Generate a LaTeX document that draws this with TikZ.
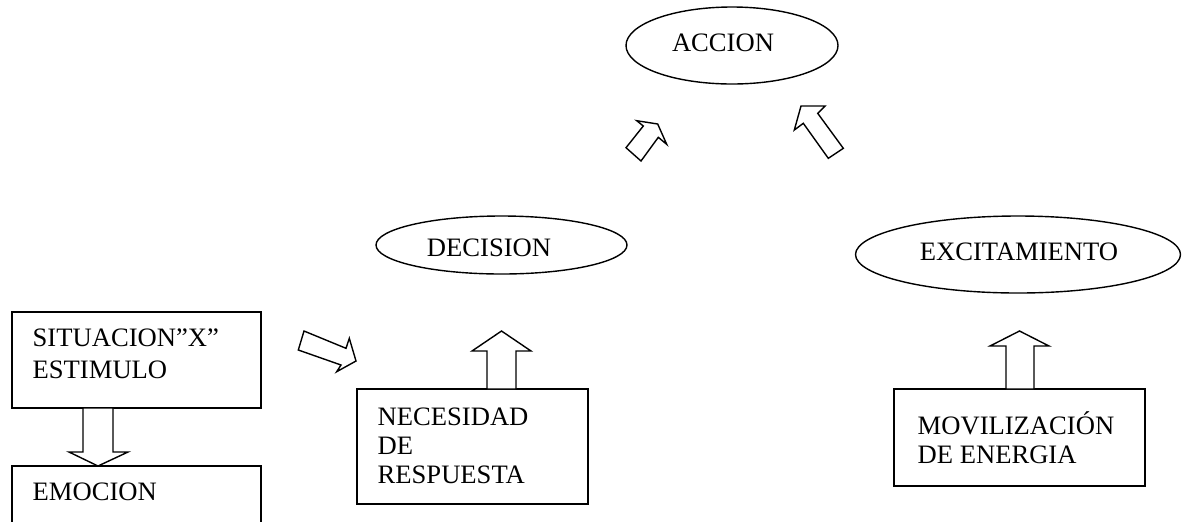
\documentclass[tikz,border=0pt]{standalone}
\usepackage{fontspec}
\setmainfont{Liberation Serif}
\usetikzlibrary{shapes.geometric}
\begin{document}
\begin{tikzpicture}[x=0.5pt,y=-0.5pt, line width=0.7pt,
  box/.style={draw, rectangle, inner sep=0pt, outer sep=0pt},
  oval/.style={draw, ellipse, inner sep=0pt, outer sep=0pt},
  lbl/.style={anchor=west, inner sep=0pt, align=left, font=\fontsize{13.3pt}{14.5pt}\selectfont},
  ctr/.style={inner sep=0pt, font=\fontsize{13.3pt}{14.5pt}\selectfont},
  blk/.style={draw, line join=miter, fill=white}]
\useasboundingbox (0,0) rectangle (1182,521);
\clip (0,0) rectangle (1182,521);

% ellipses
\node[oval, minimum width=106pt, minimum height=38.5pt] (accion) at (732,45.5) {};
\node[ctr] (taccion) at (723,43) {ACCION};
\node[oval, minimum width=125.5pt, minimum height=29pt] (decision) at (501.5,245) {};
\node[ctr] (tdecision) at (489,248) {DECISION};
\node[oval, minimum width=162.5pt, minimum height=38.5pt] (excit) at (1018,254.5) {};
\node[ctr] (texcit) at (1019,252) {EXCITAMIENTO};

% boxes
\node[box, minimum width=124.5pt, minimum height=48pt] (sit) at (136.5,360) {};
\node[lbl, font=\fontsize{13.3pt}{16pt}\selectfont] (tsit) at (32,354) {SITUACION”X”\\ESTIMULO};
\node[box, minimum width=124.5pt, minimum height=37pt] (emo) at (136.5,503) {};
\node[lbl] (temo) at (32,492) {EMOCION};
\node[box, minimum width=115.5pt, minimum height=57.5pt] (nec) at (472.5,446.5) {};
\node[lbl] (tnec) at (377,446) {NECESIDAD\\DE\\RESPUESTA};
\node[box, minimum width=125.5pt, minimum height=48.5pt] (mov) at (1019.5,437.5) {};
\node[lbl] (tmov) at (917,437.5) {MOVILIZACIÓN\\DE ENERGIA};

% block arrows
\draw[blk] (83,408) -- (83,452) -- (69,452) -- (98,466) -- (128,452) -- (113,452) -- (113,408) -- cycle;
\draw[blk] (487,389) -- (487,351) -- (472,351) -- (501.5,331) -- (531,351) -- (516,351) -- (516,389) -- cycle;
\draw[blk] (1006,389) -- (1006,346) -- (990,346) -- (1019.5,331) -- (1049,346) -- (1034,346) -- (1034,389) -- cycle;
\draw[blk] (304,331) -- (346,348.3) -- (349.3,338.3) -- (356,361) -- (336.7,371.7) -- (341,365) -- (298.3,350) -- cycle;
\draw[blk] (626,147.7) -- (643.3,126) -- (636.7,120.7) -- (657.7,124) -- (666.7,144.3) -- (658.3,137.3) -- (641,161) -- cycle;
\draw[blk] (801,106) -- (825,106) -- (817.7,113.3) -- (843.3,148.3) -- (828.3,158.3) -- (803.3,123.3) -- (794.3,130) -- cycle;
\end{tikzpicture}
\end{document}
